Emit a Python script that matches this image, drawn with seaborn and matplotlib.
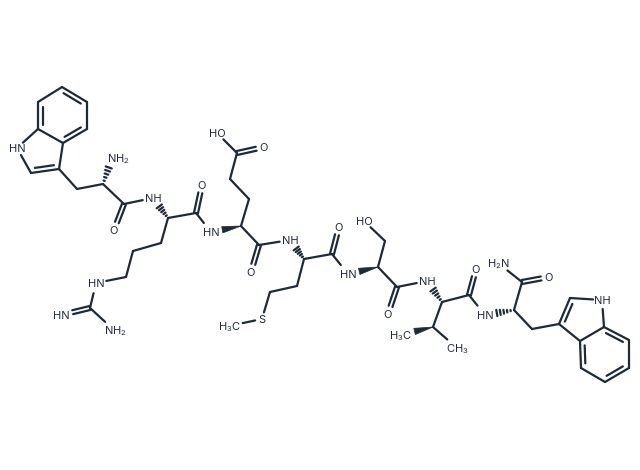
import numpy as np
import pandas as pd
import matplotlib
matplotlib.use("Agg")
import matplotlib.pyplot as plt
import seaborn as sns

sns.set_theme(style="white")
plt.rcParams['font.family'] = ['Inter', 'DejaVu Sans']
plt.rcParams['mathtext.fontset'] = 'custom'
plt.rcParams['mathtext.rm'] = 'Inter'
plt.rcParams['mathtext.default'] = 'regular'
INK = "#1e2a3a"

# atom name -> picture position
atoms = {
    # first tryptophan
    "a1": (62, 87), "a2": (87, 102), "a3": (87, 129), "a4": (63, 143), "a5": (38, 129), "a6": (38, 102),
    "a7": (17, 148), "a8": (31, 173), "a9": (59, 169), "a10": (77, 189), "a11": (103, 184),
    "n1": (112, 158), "c1": (124, 204), "o1": (114, 230),
    # arginine
    "n2": (153, 198), "ca2": (168, 218), "c2": (196, 213), "o2": (202, 185),
    "r1": (161, 243), "r2": (133, 251), "r3": (126, 277), "r4": (96, 283), "r5": (90, 308),
    "r6": (61, 315), "r7": (114, 330),
    # glutamate
    "n3": (211, 232), "ca3": (241, 226), "e1": (249, 199), "e2": (230, 179), "e3": (237, 153),
    "e4": (217, 133), "e5": (264, 147), "c3": (259, 245), "o3": (251, 272),
    # methionine
    "n4": (290, 240), "ca4": (304, 259), "c4": (332, 254), "o4": (339, 227),
    "m1": (297, 286), "m2": (270, 292), "s": (262, 319), "m3": (229, 326),
    # serine
    "n5": (348, 274), "ca5": (378, 267), "s1": (385, 241), "s2": (364, 221),
    "c5": (397, 287), "o5": (388, 314),
    # valine
    "n6": (427, 281), "ca6": (442, 302), "c6": (469, 295), "o6": (476, 269),
    "v1": (433, 327), "v2": (400, 335), "v3": (457, 348),
    # second tryptophan
    "n7": (485, 315), "ca7": (514, 310), "c7": (522, 282), "n8": (498, 263), "o7": (549, 277),
    "t1": (532, 329), "t2": (559, 324), "t3": (570, 298), "t4": (602, 300), "t5": (604, 327),
    "t6": (580, 341), "t7": (581, 368), "t8": (605, 382), "t9": (629, 368), "t10": (629, 340),
}

# atoms that carry a text label -> how far bonds stop short of them
label_gap = {
    "n1": 10, "o1": 8, "n2": 10.5, "o2": 8, "r4": 10.5, "r6": 12, "r7": 12, "n3": 11.5, "e4": 9, "e5": 8,
    "o3": 8, "n4": 10.5, "o4": 8, "s": 7, "m3": 14, "n5": 11.5, "s2": 9, "o5": 8, "n6": 10.5, "o6": 8,
    "v3": 13, "n7": 12, "n8": 12, "o7": 8, "t4": 9, "a7": 8, "v2": 15,
}

single_bonds = [
    ("a1", "a6"), ("a2", "a3"), ("a4", "a5"), ("a5", "a7"), ("a7", "a8"), ("a9", "a4"),
    ("a9", "a10"), ("a10", "a11"), ("a11", "c1"), ("c1", "n2"), ("ca2", "c2"), ("c2", "n3"),
    ("ca2", "r1"), ("r1", "r2"), ("r2", "r3"), ("r3", "r4"), ("r4", "r5"), ("r5", "r7"),
    ("ca3", "e1"), ("e1", "e2"), ("e2", "e3"), ("e3", "e4"), ("ca3", "c3"), ("c3", "n4"),
    ("ca4", "c4"), ("c4", "n5"), ("ca4", "m1"), ("m1", "m2"), ("m2", "s"), ("s", "m3"),
    ("ca5", "s1"), ("s1", "s2"), ("ca5", "c5"), ("c5", "n6"),
    ("ca6", "c6"), ("c6", "n7"), ("ca6", "v1"), ("v1", "v3"),
    ("ca7", "c7"), ("c7", "n8"), ("ca7", "t1"), ("t1", "t2"), ("t2", "t6"), ("t3", "t4"), ("t4", "t5"),
    ("t5", "t6"), ("t7", "t8"), ("t9", "t10"),
]
# ring double bonds: (atom, atom, atom on the side of the inner line)
ring_doubles = [
    ("a1", "a2", "a4"), ("a3", "a4", "a1"), ("a5", "a6", "a2"), ("a8", "a9", "a4"),
    ("t2", "t3", "t5"), ("t5", "t10", "t8"), ("t8", "t9", "t5"), ("t6", "t7", "t9"),
]
# terminal double bonds, drawn either side of the axis
term_doubles = [
    ("c1", "o1"), ("c2", "o2"), ("r5", "r6"), ("e3", "e5"), ("c3", "o3"), ("c4", "o4"),
    ("c5", "o5"), ("c6", "o6"), ("c7", "o7"),
]
wedges = [("ca3", "n3"), ("ca5", "n5"), ("v1", "v2")]
hashes = [("a11", "n1"), ("ca2", "n2"), ("ca4", "n4"), ("ca6", "n6"), ("ca7", "n7")]

labels = [
    ("HN", 17, 148), ("NH$_2$", 118, 158), ("O", 114, 230), ("NH", 153, 198), ("O", 202, 185),
    ("HN", 96, 283), ("HN", 61, 315), ("NH$_2$", 115, 330), ("HN", 211, 232), ("HO", 217, 133),
    ("O", 264, 147), ("O", 251, 272), ("NH", 290, 240), ("O", 339, 227), ("S", 262, 319),
    ("H$_3$C", 229, 326), ("HN", 348, 274), ("HO", 364, 221), ("O", 388, 314), ("NH", 427, 281),
    ("H$_3$C", 400, 335), ("O", 476, 269), ("CH$_3$", 457, 348), ("HN", 485, 315), ("H$_2$N", 498, 263),
    ("O", 549, 277), ("NH", 602, 300),
]


def pt(name):
    return np.array(atoms[name], float)


def ends(a, b):
    p, q = pt(a), pt(b)
    u = (q - p) / np.linalg.norm(q - p)
    p = p + u * label_gap.get(a, 0)
    q = q - u * label_gap.get(b, 0)
    return p, q


rows = []


def seg(p, q):
    k = len(rows) // 2
    rows.append((k, p[0], p[1]))
    rows.append((k, q[0], q[1]))


for a, b in single_bonds:
    seg(*ends(a, b))

for a, b, side in ring_doubles:
    p, q = ends(a, b)
    seg(p, q)
    u = (q - p) / np.linalg.norm(q - p)
    n = np.array([-u[1], u[0]])
    if np.dot(n, pt(side) - p) < 0:
        n = -n
    seg(p + n * 4.5 + u * 4.5, q + n * 4.5 - u * 4.5)

for a, b in term_doubles:
    p, q = ends(a, b)
    u = (q - p) / np.linalg.norm(q - p)
    n = np.array([-u[1], u[0]])
    seg(p + n * 2.0, q + n * 2.0)
    seg(p - n * 2.0, q - n * 2.0)

for a, b in hashes:
    p, q = ends(a, b)
    u = (q - p) / np.linalg.norm(q - p)
    n = np.array([-u[1], u[0]])
    for t in np.linspace(0.2, 1.0, 5):
        c = p + (q - p) * t
        w = 3.2 * t
        seg(c + n * w, c - n * w)

bonds = pd.DataFrame(rows, columns=["bond", "x", "y"])

fig = plt.figure(figsize=(6.4, 4.7), dpi=100, facecolor="white")
ax = fig.add_axes([0, 0, 1, 1])
sns.lineplot(data=bonds, x="x", y="y", units="bond", estimator=None, sort=False,
             color=INK, linewidth=1.6, ax=ax, legend=False, solid_capstyle="round")

for a, b in wedges:
    p, q = ends(a, b)
    u = (q - p) / np.linalg.norm(q - p)
    n = np.array([-u[1], u[0]])
    tri = np.array([p, q + n * 3.2, q - n * 3.2])
    ax.fill(tri[:, 0], tri[:, 1], color=INK, lw=0.5)

for text, x, y in labels:
    ax.text(x, y + 4.0, text, ha="center", va="baseline", fontsize=8.0, color=INK)

ax.set_xlim(0, 640)
ax.set_ylim(470, 0)
ax.axis("off")
fig.savefig("out.png", dpi=100, facecolor="white")
